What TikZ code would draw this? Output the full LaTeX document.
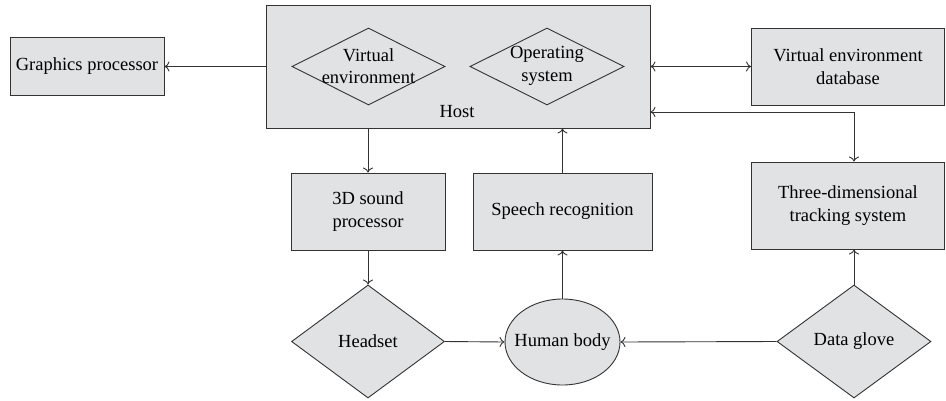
\documentclass[tikz,border=0pt]{standalone}
\usepackage{fontspec}
\setmainfont{Liberation Serif}
\usetikzlibrary{shapes.geometric,arrows.meta}
\definecolor{boxfill}{HTML}{E1E2E4}
\definecolor{ln}{HTML}{333333}
\newcommand{\txtsize}{\fontsize{18.5}{22.5}\selectfont}
\tikzset{
  x=1pt,y=-1pt,
  box/.style={draw=ln,fill=boxfill,line width=0.9pt,inner sep=0pt,align=center,font=\txtsize},
  dia/.style={draw=ln,line width=0.9pt,diamond,inner sep=0pt,align=center,font=\txtsize},
  lbl/.style={font=\txtsize,align=center,inner sep=0pt},
  arr/.style={draw=ln,line width=0.9pt,-{To[length=5pt,width=10pt]}},
  darr/.style={draw=ln,line width=0.9pt,{To[length=5pt,width=10pt]}-{To[length=5pt,width=10pt]}},
}
\begin{document}
\begin{tikzpicture}
\useasboundingbox (0,0) rectangle (946,400);
% Host
\node[box,minimum width=384pt,minimum height=123pt] (host) at (458,66.5) {};
\node[lbl] (hostlbl) at (457,112) {Host};
\node[dia,minimum width=153pt,minimum height=77pt,fill=boxfill] (ve) at (368.5,66.5) {};
\node[lbl] (vet) at (368.5,66) {Virtual\\environment};
\node[dia,minimum width=154pt,minimum height=77pt,fill=boxfill] (os) at (547,66.5) {};
\node[lbl] (ost) at (547,66) {Operating\\system};
% other boxes
\node[box,minimum width=154pt,minimum height=58pt] (gp) at (87,66.5) {Graphics processor};
\node[box,minimum width=193pt,minimum height=77pt] (db) at (848,66.5) {Virtual environment\\database};
\node[box,minimum width=154pt,minimum height=77pt] (snd) at (368,211.5) {3D sound\\processor};
\node[box,minimum width=179pt,minimum height=77pt] (sp) at (562.5,211.5) {Speech recognition};
\node[box,minimum width=193pt,minimum height=87pt] (tr) at (848,205.5) {Three-dimensional\\tracking system};
\node[dia,fill=boxfill,minimum width=153pt,minimum height=113pt] (hs) at (368,341.5) {Headset};
\node[draw=ln,fill=boxfill,line width=0.9pt,ellipse,minimum width=115pt,minimum height=86pt,inner sep=0pt] (hb) at (562.5,342) {};
\node[lbl] (hbt) at (562.5,342) {Human body};
\node[dia,fill=boxfill,minimum width=154pt,minimum height=113pt] (dg) at (854,341.5) {Data glove};
% connectors
\draw[arr] (host.west |- gp.east) -- (gp.east);
\draw[darr] (host.east |- db.west) -- (db.west);
\coordinate (c1) at (854,112);
\draw[darr] (host.east |- c1) -- (c1) -- (c1 |- tr.north);
\draw[arr] (snd.north |- host.south) -- (snd.north);
\draw[arr] (sp.north) -- (sp.north |- host.south);
\draw[arr] (snd.south) -- (hs.north);
\draw[arr] (hb.north) -- (sp.south);
\draw[arr] (hs.east) -- (hb.west);
\draw[arr] (dg.west) -- (hb.east);
\draw[arr] (dg.north) -- (dg.north |- tr.south);
\end{tikzpicture}
\end{document}
